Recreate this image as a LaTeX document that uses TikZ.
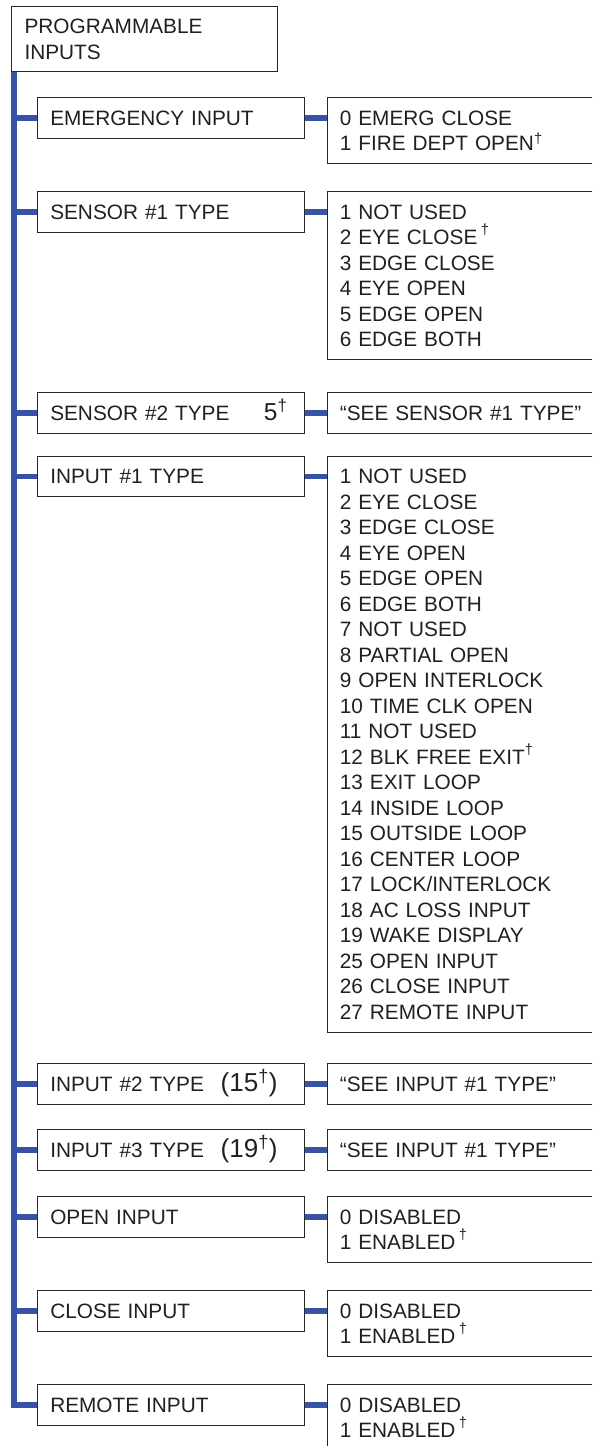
\documentclass[tikz,border=0pt]{standalone}
\usepackage{fontspec}
\setmainfont{Liberation Sans}
\usepackage{xcolor}
\usepackage{tikz}
\definecolor{MenuBlue}{RGB}{54, 84, 163}
\definecolor{MenuInk}{RGB}{35, 31, 32}
\definecolor{MenuFrame}{RGB}{40, 40, 40}
\newcommand{\tdag}{\textsuperscript{†}}
\newcommand{\rdag}{\raisebox{2.5pt}{\textsuperscript{†}}}
\newcommand{\bigfig}[2][24.5]{\smash{\fontsize{#1}{#1}\selectfont #2}}

\begin{document}
\begin{tikzpicture}[x=1pt, y=-1pt,
      every node/.style={font=\fontsize{20.8}{25.5}\selectfont, text=MenuInk, align=left},
      header/.style={rectangle, draw=MenuFrame, line width=1.1pt, anchor=north west, text width=240pt, inner xsep=13pt, inner ysep=12.5pt},
      param/.style={rectangle, draw=MenuFrame, line width=1.1pt, anchor=north west, text width=241.3pt, inner xsep=13pt, inner ysep=13pt, minimum height=40pt},
      choice/.style={rectangle, draw=MenuFrame, line width=1.1pt, anchor=north west, text width=276pt, inner xsep=12pt, inner ysep=13pt, minimum height=40pt},
      bus/.style={draw=MenuBlue, line width=5.5pt}
    ]
      \useasboundingbox (0,0) rectangle (592,1446);
      \clip (0,0) rectangle (592,1446);

      % Menu head
      \node[header] (title) at (11, 6) {PROGRAMMABLE\\INPUTS};
      \coordinate (spine) at ([xshift=2.75pt]title.south west);

      % Parameters
      \node[param] (emerg) at (36.7, 97) {EMERGENCY INPUT};
      \node[param] (sens1) at (36.7, 191) {SENSOR \#1 TYPE};
      \node[param] (sens2) at (36.7, 392) {SENSOR \#2 TYPE\hfill\bigfig{5\tdag}\hspace*{4pt}};
      \node[param] (in1) at (36.7, 455.5) {INPUT \#1 TYPE};
      \node[param] (in2) at (36.7, 1063) {INPUT \#2 TYPE\hfill\bigfig[26]{(15\tdag)}\hspace*{14pt}};
      \node[param] (in3) at (36.7, 1129) {INPUT \#3 TYPE\hfill\bigfig[26]{(19\tdag)}\hspace*{14pt}};
      \node[param] (open) at (36.7, 1196) {OPEN INPUT};
      \node[param] (close) at (36.7, 1290) {CLOSE INPUT};
      \node[param] (remote) at (36.7, 1384) {REMOTE INPUT};

      % Settings
      \node[choice] (emergopt) at (327.3, 97) {0 EMERG CLOSE\\1 FIRE DEPT OPEN\tdag};
      \node[choice] (sens1opt) at (327.3, 191) {1 NOT USED\\2 EYE CLOSE\,\rdag\\3 EDGE CLOSE\\4 EYE OPEN\\5 EDGE OPEN\\6 EDGE BOTH};
      \node[choice] (sens2opt) at (327.3, 392) {“SEE SENSOR \#1 TYPE”};
      \node[choice] (in1opt) at (327.3, 455.5) {1 NOT USED\\2 EYE CLOSE\\3 EDGE CLOSE\\4 EYE OPEN\\5 EDGE OPEN\\6 EDGE BOTH\\7 NOT USED\\8 PARTIAL OPEN\\9 OPEN INTERLOCK\\10 TIME CLK OPEN\\11 NOT USED\\12 BLK FREE EXIT\rdag\\13 EXIT LOOP\\14 INSIDE LOOP\\15 OUTSIDE LOOP\\16 CENTER LOOP\\17 LOCK/INTERLOCK\\18 AC LOSS INPUT\\19 WAKE DISPLAY\\25 OPEN INPUT\\26 CLOSE INPUT\\27 REMOTE INPUT};
      \node[choice] (in2opt) at (327.3, 1063) {“SEE INPUT \#1 TYPE”};
      \node[choice] (in3opt) at (327.3, 1129) {“SEE INPUT \#1 TYPE”};
      \node[choice] (openopt) at (327.3, 1196) {0 DISABLED\\1 ENABLED\,\rdag};
      \node[choice] (closeopt) at (327.3, 1290) {0 DISABLED\\1 ENABLED\,\rdag};
      \node[choice] (remoteopt) at (327.3, 1384) {0 DISABLED\\1 ENABLED\,\rdag};

      % Spine and branches
      \draw[bus] (spine) |- (remote.west);
      \draw[bus] (emerg.west) -- (emerg.west -| spine);
      \draw[bus] (sens1.west) -- (sens1.west -| spine);
      \draw[bus] (sens2.west) -- (sens2.west -| spine);
      \draw[bus] (in1.west) -- (in1.west -| spine);
      \draw[bus] (in2.west) -- (in2.west -| spine);
      \draw[bus] (in3.west) -- (in3.west -| spine);
      \draw[bus] (open.west) -- (open.west -| spine);
      \draw[bus] (close.west) -- (close.west -| spine);

      % Parameter -> settings
      \draw[bus] (emerg.east) -- (emerg.east -| emergopt.west);
      \draw[bus] (sens1.east) -- (sens1.east -| sens1opt.west);
      \draw[bus] (sens2.east) -- (sens2.east -| sens2opt.west);
      \draw[bus] (in1.east) -- (in1.east -| in1opt.west);
      \draw[bus] (in2.east) -- (in2.east -| in2opt.west);
      \draw[bus] (in3.east) -- (in3.east -| in3opt.west);
      \draw[bus] (open.east) -- (open.east -| openopt.west);
      \draw[bus] (close.east) -- (close.east -| closeopt.west);
      \draw[bus] (remote.east) -- (remote.east -| remoteopt.west);
    \end{tikzpicture}
\end{document}
